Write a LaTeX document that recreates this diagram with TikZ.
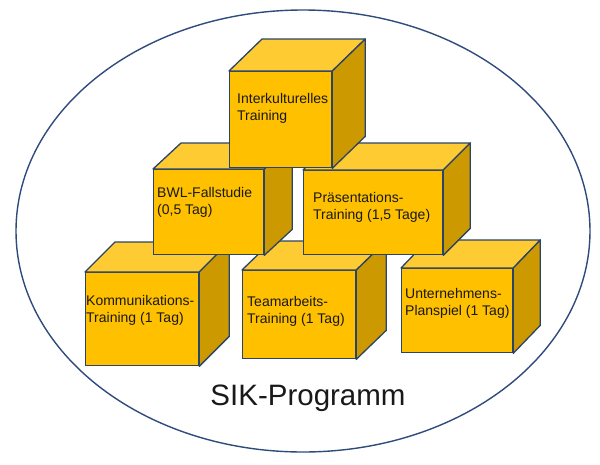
\documentclass[tikz,border=0pt]{standalone}
\usepackage{fontspec}
\usetikzlibrary{shapes.geometric}
\setmainfont{Liberation Sans}
\definecolor{frontc}{HTML}{FFC000}
\definecolor{topc}{HTML}{FFCB33}
\definecolor{sidec}{HTML}{CC9A00}
\definecolor{edgec}{HTML}{2A4468}
\definecolor{ringc}{HTML}{2F4B7C}
\tikzset{
  frontface/.style={draw=edgec, fill=frontc, line width=1.3pt, inner sep=0pt, anchor=north west},
  topface/.style={draw=edgec, fill=topc, line width=1.3pt, line join=round},
  sideface/.style={draw=edgec, fill=sidec, line width=1.3pt, line join=round},
  lbl/.style={anchor=base west, inner sep=0pt, align=left, font=\fontsize{14}{17.5}\selectfont, text=black!90},
  ring/.style={draw=ringc, line width=1.4pt}
}
% #1 name, #2 x1, #3 y1, #4 x2, #5 y2, #6 dx, #7 dy
\newcommand{\mycube}[7]{%
  \node[frontface, minimum width={(#4-#2)*1pt}, minimum height={(#5-#3)*1pt}] (#1) at (#2,#3) {};
  \filldraw[topface] (#1.north west) -- ([shift={(#6,-#7)}]#1.north west) -- ([shift={(#6,-#7)}]#1.north east) -- (#1.north east) -- cycle;
  \filldraw[sideface] (#1.north east) -- ([shift={(#6,-#7)}]#1.north east) -- ([shift={(#6,-#7)}]#1.south east) -- (#1.south east) -- cycle;
}
\begin{document}
\begin{tikzpicture}[x=1pt,y=-1pt]
\useasboundingbox (0,0) rectangle (600,464);
\node[ring, ellipse, minimum width=574pt, minimum height=442pt, inner sep=0pt] (prog) at (303,231) {};
% bottom row
\mycube{komm}{85}{272}{198}{365}{30}{30}
\mycube{team}{242}{270}{355}{358}{30}{29}
\mycube{unt}{401}{268}{512}{352}{27}{28}
% middle row
\mycube{bwl}{153}{169}{263}{254}{28}{26}
\mycube{praes}{303}{170}{442}{254}{27}{27}
% top
\mycube{inter}{229}{71}{331}{167}{33}{32}
% labels (anchor = baseline of the last line)
\node[lbl] (tinter) at (237,120.5) {Interkulturelles\\Training};
\node[lbl] (tbwl) at (157,214.5) {BWL-Fallstudie\\(0,5 Tag)};
\node[lbl] (tpraes) at (313,219.5) {Präsentations-\\Training (1,5 Tage)};
\node[lbl] (tkomm) at (86,322.5) {Kommunikations-\\Training (1 Tag)};
\node[lbl] (tteam) at (247,323.5) {Teamarbeits-\\Training (1 Tag)};
\node[lbl] (tunt) at (405,315.5) {Unternehmens-\\Planspiel (1 Tag)};
\node[anchor=base, inner sep=0pt, font=\fontsize{29.5}{35}\selectfont, text=black!90] (sik) at (308,405) {SIK-Programm};
\end{tikzpicture}
\end{document}
